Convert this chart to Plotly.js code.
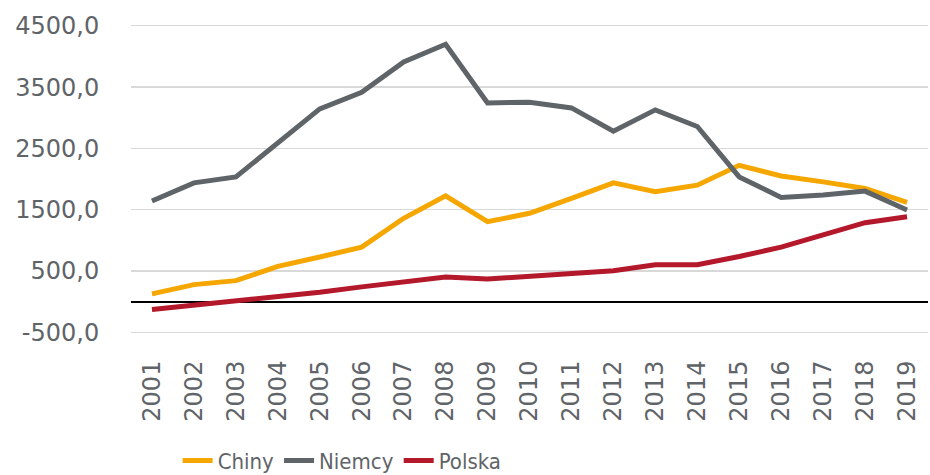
<!DOCTYPE html>
<html>
<head>
<meta charset="utf-8">
<script src="https://cdn.plot.ly/plotly-3.0.1.min.js"></script>
<style>html,body{margin:0;padding:0;background:#fff;}#chart{width:930px;height:475px;}</style>
</head>
<body>
<div id="chart"></div>
<script>
const years = ["2001","2002","2003","2004","2005","2006","2007","2008","2009","2010","2011","2012","2013","2014","2015","2016","2017","2018","2019"];
const chiny = [125, 276, 341, 573, 726, 888, 1359, 1726, 1304, 1440, 1683, 1937, 1791, 1899, 2224, 2050, 1953, 1846, 1618];
const niemcy = [1640, 1937, 2034, 2602, 3144, 3414, 3912, 4200, 3242, 3252, 3160, 2781, 3128, 2857, 2034, 1700, 1737, 1802, 1494];
const polska = [-130, -60, 5, 70, 151, 239, 313, 401, 368, 411, 455, 503, 601, 601, 735, 888, 1088, 1287, 1385];
const yTickVals = [-500, 500, 1500, 2500, 3500, 4500];
const yTickText = ["-500,0", "500,0", "1500,0", "2500,0", "3500,0", "4500,0"];

const traces = [
  {name: "Chiny", x: years, y: chiny, color: "#F5A700"},
  {name: "Niemcy", x: years, y: niemcy, color: "#5E6467"},
  {name: "Polska", x: years, y: polska, color: "#B3182B"}
].map(s => ({
  type: "scatter", mode: "lines", name: s.name, x: s.x, y: s.y,
  line: {color: s.color, width: 5}, hoverinfo: "skip"
}));

const tickFont = {family: "DejaVu Sans", size: 24, color: "#5F6468"};
const layout = {
  width: 930, height: 475,
  margin: {l: 131, r: 2, t: 24, b: 141},
  paper_bgcolor: "#fff", plot_bgcolor: "#fff",
  showlegend: true,
  legend: {
    orientation: "h", x: 0.191, xref: "container", xanchor: "left",
    y: 0.03, yref: "container", yanchor: "middle",
    font: {family: "DejaVu Sans Condensed, Liberation Sans Narrow, Liberation Sans", size: 22, color: "#5F6468"},
    itemwidth: 30, tracegroupgap: 0, bgcolor: "rgba(0,0,0,0)"
  },
  xaxis: {
    type: "category", range: [-0.5, 18.5], showgrid: false, zeroline: false,
    showline: false, tickangle: -90, tickfont: tickFont, automargin: false,
    ticks: "outside", ticklen: 16, tickcolor: "rgba(0,0,0,0)", fixedrange: true
  },
  yaxis: {
    range: [-530, 4530], tickvals: yTickVals, ticktext: yTickText,
    showgrid: true, gridcolor: "#D9D9D9", gridwidth: 1.3, automargin: false,
    zeroline: true, zerolinecolor: "#000", zerolinewidth: 2,
    showline: false, tickfont: tickFont,
    ticks: "outside", ticklen: 26, tickcolor: "rgba(0,0,0,0)", fixedrange: true
  }
};
Plotly.newPlot("chart", traces, layout, {staticPlot: true, displayModeBar: false});
</script>
</body>
</html>
